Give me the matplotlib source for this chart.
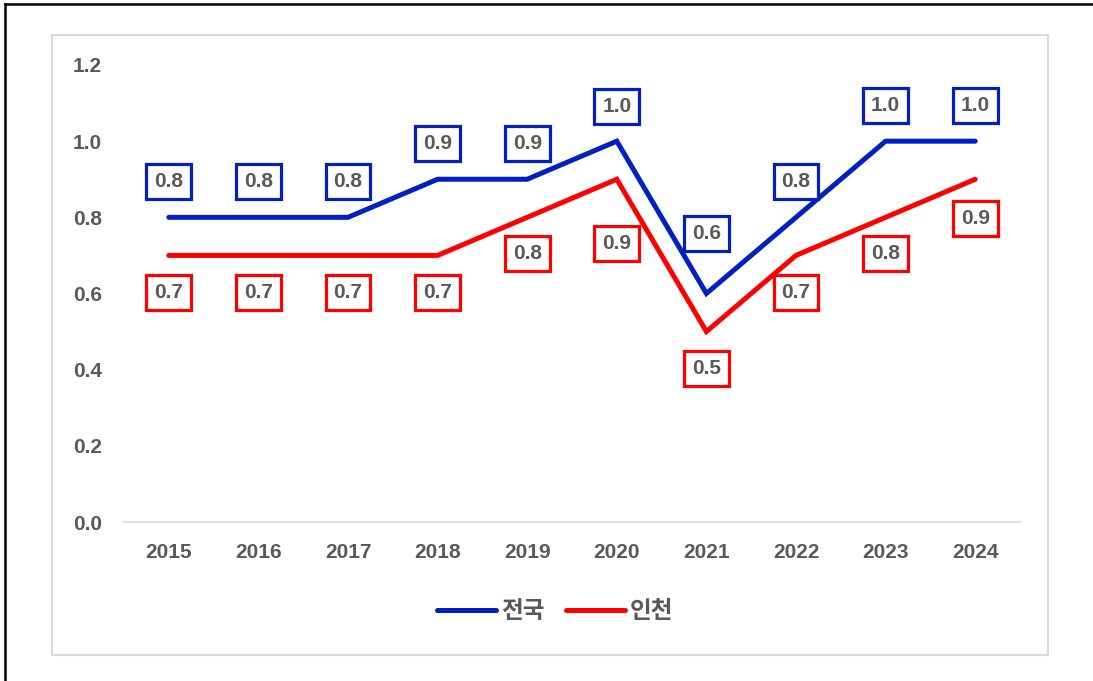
import matplotlib
matplotlib.use("Agg")
import matplotlib.pyplot as plt
from matplotlib.patches import Rectangle
from matplotlib.lines import Line2D

years = ["2015", "2016", "2017", "2018", "2019", "2020", "2021", "2022", "2023", "2024"]
national = [0.8, 0.8, 0.8, 0.9, 0.9, 1.0, 0.6, 0.8, 1.0, 1.0]
incheon = [0.7, 0.7, 0.7, 0.7, 0.8, 0.9, 0.5, 0.7, 0.8, 0.9]
series_names = ["전국", "인천"]
yticks = [0.0, 0.2, 0.4, 0.6, 0.8, 1.0, 1.2]

# label offsets in pixels (positive = up)
nat_off = [36, 36, 36, 36, 36, 35, 60, 36, 36, 36]
inc_off = [-37, -37, -37, -37, -36, -64, -37, -37, -36, -39]

BLUE = "#0020C0"
RED = "#FF0000"
GRAY = "#595959"
NUM_FONT = ["Liberation Sans", "DejaVu Sans"]
FS = 15

W, H = 1093, 681
fig = plt.figure(figsize=(W / 100, H / 100), dpi=100)
fig.patch.set_facecolor("white")

# outer frame
fig.add_artist(Line2D([5 / W, 1.0], [1 - 4 / H, 1 - 4 / H], color="black", lw=1.8, transform=fig.transFigure))
fig.add_artist(Line2D([5 / W, 5 / W], [0, 1 - 4 / H], color="black", lw=1.8, transform=fig.transFigure))
# inner gray box
fig.add_artist(Rectangle((52 / W, 1 - 655 / H), (1048 - 52) / W, (655 - 35) / H,
                         fill=False, edgecolor="#D9D9D9", lw=1.5, transform=fig.transFigure))

ax = fig.add_axes([124 / W, 1 - 522 / H, (1020 - 124) / W, (522 - 65) / H])
x = list(range(len(years)))
ax.plot(x, national, color=BLUE, lw=3.6, solid_capstyle="round", solid_joinstyle="miter", label=series_names[0], zorder=3)
ax.plot(x, incheon, color=RED, lw=3.6, solid_capstyle="round", solid_joinstyle="miter", label=series_names[1], zorder=3)

ax.set_xlim(-0.5, len(years) - 0.5)
ax.set_ylim(0, 1.2)
ax.set_xticks(x)
ax.set_xticklabels(years)
ax.set_yticks(yticks)
ax.set_yticklabels([f"{v:.1f}" for v in yticks])
for s in ["top", "right", "left"]:
    ax.spines[s].set_visible(False)
ax.spines["bottom"].set_color("#D9D9D9")
ax.spines["bottom"].set_linewidth(1.2)
ax.tick_params(axis="both", length=0, colors=GRAY)
ax.tick_params(axis="x", pad=15)
ax.tick_params(axis="y", pad=16)
for lab in ax.get_xticklabels() + ax.get_yticklabels():
    lab.set_family(NUM_FONT)
    lab.set_fontweight("bold")
    lab.set_fontsize(FS)
    lab.set_color(GRAY)

def label(xi, yi, off, color):
    ax.annotate(f"{yi:.1f}", (xi, yi), xytext=(0, off * 0.72), textcoords="offset points",
                ha="center", va="center", fontsize=FS, fontweight="bold", color=GRAY,
                family=NUM_FONT, zorder=5,
                bbox=dict(boxstyle="square,pad=0.38", fc="white", ec=color, lw=2.3))

for xi, yi, o in zip(x, national, nat_off):
    label(xi, yi, o, BLUE)
for xi, yi, o in zip(x, incheon, inc_off):
    label(xi, yi, o, RED)

leg = fig.legend(loc="center", bbox_to_anchor=(555 / W, 1 - 611 / H), ncol=2, frameon=False,
                 prop={"family": ["Noto Sans CJK KR", "DejaVu Sans"], "weight": "bold", "size": 17},
                 handlelength=2.5, handletextpad=0.2, columnspacing=0.9)
for t in leg.get_texts():
    t.set_color(GRAY)

fig.savefig("out.png", dpi=100, facecolor="white")
